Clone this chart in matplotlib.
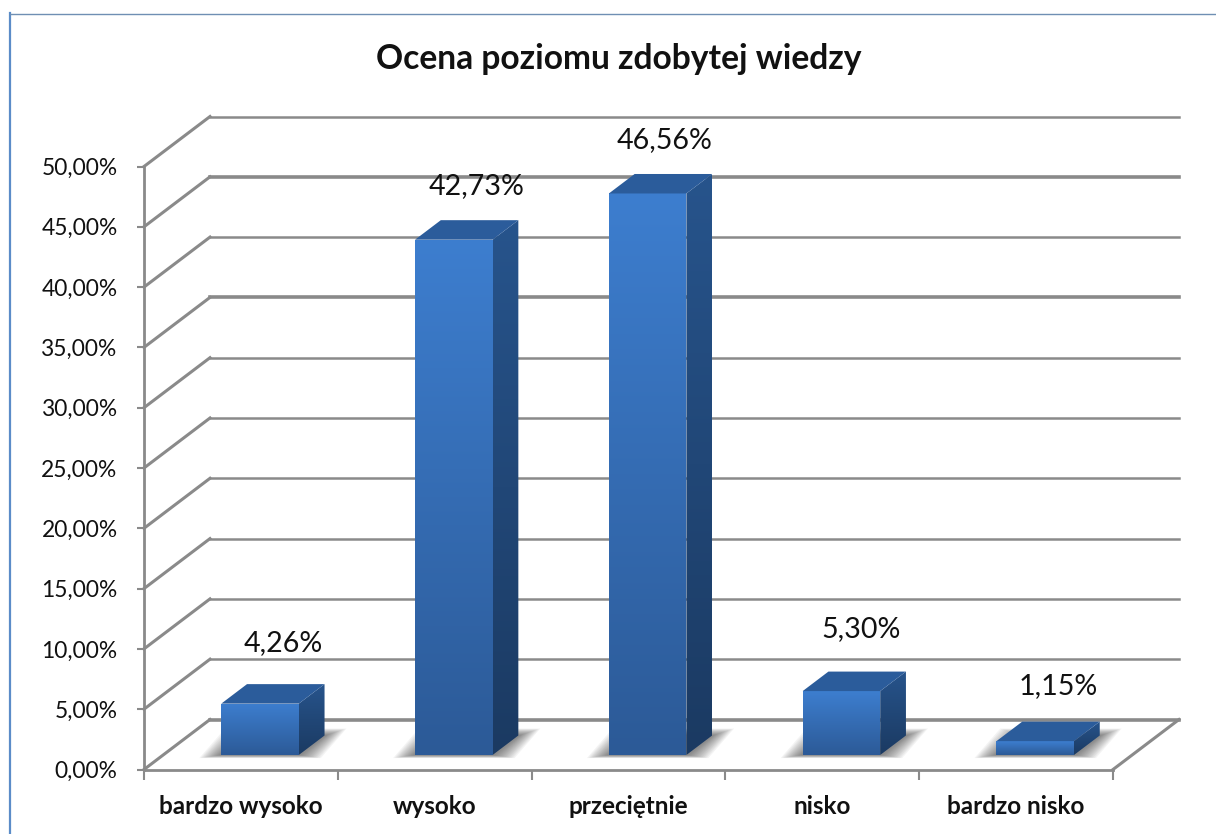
import numpy as np
import matplotlib
matplotlib.use('Agg')
import matplotlib.pyplot as plt
from matplotlib.colors import LinearSegmentedColormap
from matplotlib.lines import Line2D
from matplotlib.patches import Polygon
from matplotlib.transforms import Affine2D

plt.rcParams['font.family'] = ['Lato', 'DejaVu Sans']

# Dane
kategorie = ['bardzo wysoko', 'wysoko', 'przeciętnie', 'nisko', 'bardzo nisko']
wartosci = [4.26, 42.73, 46.56, 5.30, 1.15]
etykiety = ['4,26%', '42,73%', '46,56%', '5,30%', '1,15%']
osie_y = [0, 5, 10, 15, 20, 25, 30, 35, 40, 45, 50]
tytul = 'Ocena poziomu zdobytej wiedzy'

# Parametry rysunku (piksele)
W, H = 1216, 834
x0, x1 = 144, 1113
y_dol, y_gora = 64.5, 667.5
glebia_x, glebia_y = 66, 50
d_przod, d_tyl = 0.29, 0.68
szer = 0.4
przes_etykiet = [(23, 61), (23, 54), (17, 53), (20, 62), (23, 55)]
grube = [0, 35, 45]

fig = plt.figure(figsize=(W / 100, H / 100), dpi=100)
ax = fig.add_axes([x0 / W, y_dol / H, (x1 - x0) / W, (y_gora - y_dol) / H])
ax.set_xlim(0, 5)
ax.set_ylim(0, 50)
ax.patch.set_alpha(0)


def glebia(d):
    return ax.transData + Affine2D().translate(d * glebia_x, d * glebia_y)


szary = '#8a8a8a'
for v in osie_y:
    lw = 2.6 if v in grube else 1.8
    ax.add_line(Line2D([0, 5], [v, v], transform=glebia(1), color=szary, lw=lw, clip_on=False, zorder=1))
    # ukosna linia na lewej scianie
    p0 = ax.transData.transform((0, v))
    ax.add_line(Line2D([p0[0], p0[0] + glebia_x], [p0[1], p0[1] + glebia_y], transform=None,
                       color=szary, lw=2.2, clip_on=False, zorder=1))
p0 = ax.transData.transform((5, 0))
ax.add_line(Line2D([p0[0], p0[0] + glebia_x], [p0[1], p0[1] + glebia_y], transform=None,
                   color=szary, lw=2.2, clip_on=False, zorder=1))

cm_przod = LinearSegmentedColormap.from_list('przod', ['#2c5a97', '#3d7ecf'])
cm_bok = LinearSegmentedColormap.from_list('bok', ['#1b3a62', '#27548c'])
grad = np.linspace(1, 0, 256).reshape(-1, 1)

sx = 5 / (x1 - x0)
sy = 50 / (y_gora - y_dol)
dd = d_tyl - d_przod

for i, v in enumerate(wartosci):
    l = i + 0.5 - szer / 2
    r = i + 0.5 + szer / 2
    tr = glebia(d_przod)
    ddx = dd * glebia_x * sx
    ddy = dd * glebia_y * sy

    # cien na podlodze (rozmyty)
    for k in range(14, 0, -1):
        a = l - (k * 1.5 + 1) * sx
        b = r + (k * 1.5 + 1) * sx
        dol = -k * 0.22 * sy
        gora = ddy + k * 0.5 * sy
        ax.add_patch(Polygon([(a, dol), (b, dol), (b + ddx, gora), (a + ddx, gora)],
                             transform=tr, facecolor='#2a2a2a', alpha=0.05, edgecolor='none',
                             clip_on=False, zorder=2))

    # przod
    przod = Polygon([(l, 0), (r, 0), (r, v), (l, v)], transform=tr, facecolor='none', edgecolor='none', zorder=3)
    ax.add_patch(przod)
    im = ax.imshow(grad, cmap=cm_przod, vmin=0, vmax=1, extent=(l, r, 0, v), transform=tr,
                   aspect='auto', zorder=3, clip_on=True)
    im.set_clip_path(przod)

    # bok
    bok = Polygon([(r, 0), (r + ddx, ddy), (r + ddx, v + ddy), (r, v)], transform=tr,
                  facecolor='none', edgecolor='none', zorder=3)
    ax.add_patch(bok)
    im = ax.imshow(grad, cmap=cm_bok, vmin=0, vmax=1, extent=(r, r + ddx, 0, v + ddy), transform=tr,
                   aspect='auto', zorder=3, clip_on=True)
    im.set_clip_path(bok)

    # gora
    ax.add_patch(Polygon([(l, v), (r, v), (r + ddx, v + ddy), (l + ddx, v + ddy)], transform=tr,
                         facecolor='#2b5c9b', edgecolor='none', zorder=3, clip_on=False))

    # etykieta
    ox, oy = przes_etykiet[i]
    ax.text(i + 0.5, v, etykiety[i], transform=tr + Affine2D().translate(ox, oy),
            ha='center', va='center', fontsize=20.6, color='#111111', zorder=5, clip_on=False)

ax.set_xlim(0, 5)
ax.set_ylim(0, 50)

# Osie
for s in ['top', 'right']:
    ax.spines[s].set_visible(False)
for s in ['left', 'bottom']:
    ax.spines[s].set_color(szary)
    ax.spines[s].set_linewidth(2.0)
ax.set_yticks(osie_y)
ax.set_yticklabels(['%d,00%%' % v for v in osie_y])
ax.tick_params(axis='y', length=5, width=1.5, color=szary, labelsize=16.4, labelcolor='#111111', pad=14)
ax.set_xticks(np.arange(0, 6))
ax.set_xticklabels([])
ax.set_xticks(np.arange(5) + 0.5, minor=True)
ax.set_xticklabels(kategorie, minor=True, fontweight='bold')
ax.tick_params(axis='x', which='major', length=7, width=1.5, color=szary)
ax.tick_params(axis='x', which='minor', length=0, labelsize=17.5, labelcolor='#111111', pad=18)

fig.text(618.5 / W, 1 - 59 / H, tytul, ha='center', va='center', fontsize=24.2, fontweight='bold', color='#111111')

# Ramka wykresu
fig.add_artist(Line2D([9.5 / W, 9.5 / W], [0, 1 - 13 / H], color='#5b8cc8', lw=1.6))
fig.add_artist(Line2D([9.5 / W, 1], [1 - 13.5 / H, 1 - 13.5 / H], color='#6f8fb3', lw=1.0))

fig.savefig('out.png', dpi=100)
